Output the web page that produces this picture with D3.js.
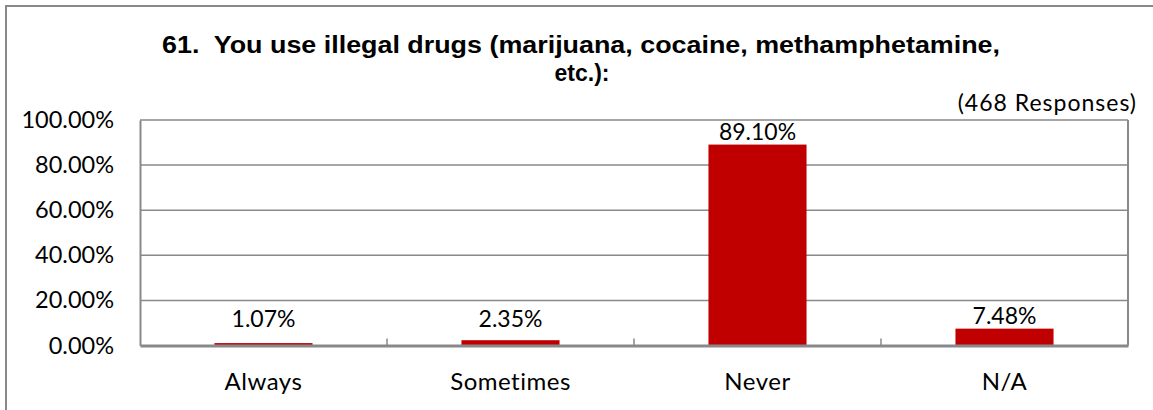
<!DOCTYPE html>
<html><head><meta charset="utf-8">
<script src="https://cdn.jsdelivr.net/npm/d3@7"></script>
<style>html,body{margin:0;padding:0;background:#fff;}svg{display:block;}</style>
</head><body><svg id="c" width="1153" height="410"></svg>
<script>
const categories = ["Always", "Sometimes", "Never", "N/A"];
const values = [0.0107, 0.0235, 0.8910, 0.0748];
const valueLabels = ["1.07%", "2.35%", "89.10%", "7.48%"];
const yTicks = [0, 0.2, 0.4, 0.6, 0.8, 1.0];
const titleLines = ["61.  You use illegal drugs (marijuana, cocaine, methamphetamine,", "etc.):"];
const subtitle = "(468 Responses)";

const svg = d3.select("#c");
const W = 1153, H = 410;
const m = {left: 140, top: 120, right: 1128, bottom: 345.5};
const gray = "#898989";
const barColor = "#C00000";
const font = "Lato, 'Open Sans', sans-serif";

// outer frame (extends beyond the picture on right/bottom)
svg.append("rect").attr("x", 6).attr("y", 6).attr("width", W + 20).attr("height", H + 20)
  .attr("fill", "none").attr("stroke", gray).attr("stroke-width", 2);

const x = d3.scaleBand().domain(categories).range([m.left, m.right]).paddingInner(0.603).paddingOuter(0.3015);
const xOuter = d3.scaleBand().domain(categories).range([m.left, m.right]);
const y = d3.scaleLinear().domain([0, 1]).range([m.bottom, m.top]);

// gridlines
svg.append("g").selectAll("line").data(yTicks.filter(d => d > 0)).join("line")
  .attr("x1", m.left).attr("x2", m.right).attr("y1", d => y(d)).attr("y2", d => y(d))
  .attr("stroke", gray).attr("stroke-width", 1.5);
// right border
svg.append("line").attr("x1", m.right).attr("x2", m.right).attr("y1", m.top).attr("y2", m.bottom)
  .attr("stroke", gray).attr("stroke-width", 2);

// y axis
const yAxis = d3.axisLeft(y).tickValues(yTicks).tickSize(0).tickPadding(26)
  .tickFormat(d => d3.format(".2%")(d));
const gy = svg.append("g").attr("transform", `translate(${m.left},0)`).call(yAxis);
gy.select(".domain").attr("stroke", gray).attr("stroke-width", 2);
gy.selectAll("text").attr("font-family", font).attr("font-size", 23.5).attr("fill", "#000");

// bars
svg.append("g").selectAll("rect").data(values).join("rect")
  .attr("x", (d, i) => x(categories[i])).attr("width", x.bandwidth())
  .attr("y", d => y(d)).attr("height", d => y(0) - y(d)).attr("fill", barColor);

// x axis
const xAxis = d3.axisBottom(xOuter).tickSize(0).tickPadding(0).tickFormat(() => "");
const gx = svg.append("g").attr("transform", `translate(0,${m.bottom})`).call(xAxis);
gx.select(".domain").attr("stroke", gray).attr("stroke-width", 3);
// category separator ticks (inside)
svg.append("g").selectAll("line").data(categories.slice(1)).join("line")
  .attr("x1", d => xOuter(d)).attr("x2", d => xOuter(d)).attr("y1", m.bottom).attr("y2", m.bottom - 7)
  .attr("stroke", gray).attr("stroke-width", 1.5);
svg.append("g").selectAll("text").data(categories).join("text")
  .attr("x", d => xOuter(d) + xOuter.bandwidth() / 2).attr("y", 390)
  .attr("text-anchor", "middle").attr("font-family", font).attr("font-size", 24)
  .attr("letter-spacing", 0.5).attr("fill", "#000")
  .text(d => d);

// value labels
svg.append("g").selectAll("text").data(values).join("text")
  .attr("x", (d, i) => x(categories[i]) + x.bandwidth() / 2)
  .attr("y", d => Math.min(y(d) - 5, y(0) - 19))
  .attr("text-anchor", "middle").attr("font-family", font).attr("font-size", 23).attr("fill", "#000")
  .text((d, i) => valueLabels[i]);

// title
svg.append("text").attr("x", 581).attr("y", 53).attr("text-anchor", "middle")
  .style("white-space", "pre")
  .attr("font-family", "'Liberation Sans', Arial, sans-serif").attr("font-weight", "bold").attr("font-size", 23)
  .attr("textLength", 838).attr("lengthAdjust", "spacingAndGlyphs").text(titleLines[0]);
svg.append("text").attr("x", 582).attr("y", 81).attr("text-anchor", "middle")
  .attr("font-family", "'Liberation Sans', Arial, sans-serif").attr("font-weight", "bold").attr("font-size", 23)
  .text(titleLines[1]);

// subtitle
svg.append("text").attr("x", 1137).attr("y", 111).attr("text-anchor", "end")
  .attr("font-family", font).attr("font-size", 23).attr("letter-spacing", 1).attr("fill", "#000")
  .text(subtitle);
</script></body></html>
